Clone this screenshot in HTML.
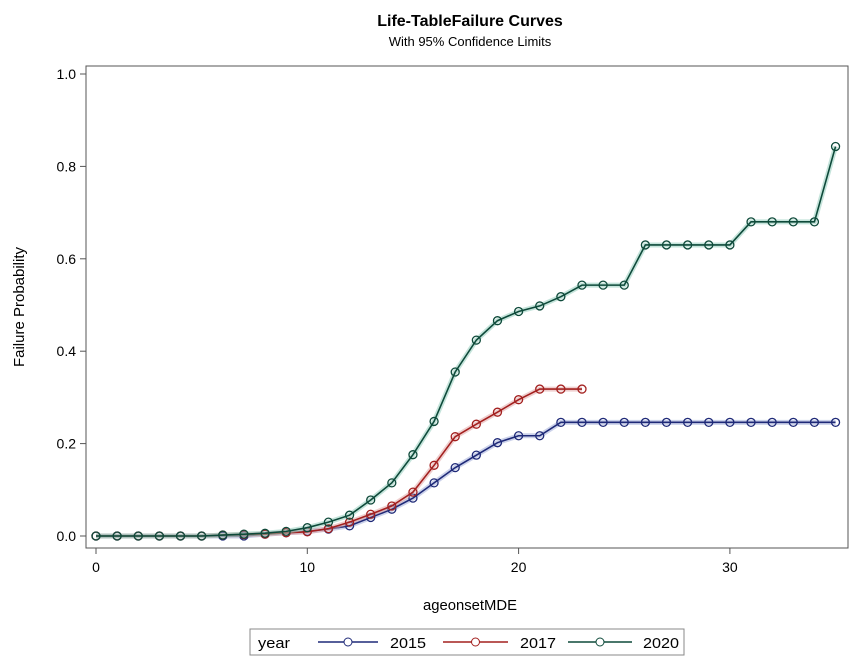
<!DOCTYPE html>
<html><head><meta charset="utf-8"><style>
body{margin:0;background:#fff;font-family:"Liberation Sans",sans-serif;}
svg text{font-family:"Liberation Sans",sans-serif;fill:#000}
</style></head><body>
<svg id="c" width="854" height="658">
<text x="470" y="26" font-size="16" font-weight="bold" text-anchor="middle">Life-TableFailure Curves</text>
<text x="470" y="46" font-size="13" text-anchor="middle">With 95% Confidence Limits</text>
<rect x="86" y="66" width="762" height="482" fill="none" stroke="#555"/>
<g id="axes"></g><g id="series"></g>
<text x="470" y="610" font-size="15" text-anchor="middle" textLength="94" lengthAdjust="spacingAndGlyphs">ageonsetMDE</text>
<text transform="translate(24,307) rotate(-90)" font-size="15" text-anchor="middle">Failure Probability</text>
<g>
<rect x="250" y="629" width="434" height="26" fill="#fff" stroke="#888"/>
<text x="258" y="648" font-size="15" textLength="32" lengthAdjust="spacingAndGlyphs">year</text>
<g id="leg"></g>
</g>
</svg>
<script>
const ages2015=[0,1,2,3,4,5,6,7,8,9,10,11,12,13,14,15,16,17,18,19,20,21,22,23,24,25,26,27,28,29,30,31,32,33,34,35];
const vals2015=[0,0,0,0,0,0,0,0,0.004,0.007,0.01,0.015,0.022,0.04,0.058,0.082,0.115,0.148,0.175,0.202,0.217,0.217,0.246,0.246,0.246,0.246,0.246,0.246,0.246,0.246,0.246,0.246,0.246,0.246,0.246,0.246];
const ages2017=[0,1,2,3,4,5,6,7,8,9,10,11,12,13,14,15,16,17,18,19,20,21,22,23];
const vals2017=[0,0,0,0,0,0,0.002,0.003,0.004,0.007,0.009,0.016,0.03,0.047,0.065,0.095,0.153,0.215,0.242,0.268,0.295,0.318,0.318,0.318];
const ages2020=[0,1,2,3,4,5,6,7,8,9,10,11,12,13,14,15,16,17,18,19,20,21,22,23,24,25,26,27,28,29,30,31,32,33,34,35];
const vals2020=[0,0,0,0,0,0,0.002,0.004,0.006,0.01,0.018,0.03,0.045,0.078,0.115,0.176,0.248,0.355,0.424,0.466,0.486,0.498,0.518,0.543,0.543,0.543,0.63,0.63,0.63,0.63,0.63,0.68,0.68,0.68,0.68,0.843];
const xTicks=[0,10,20,30];
const yTicks=[0,0.2,0.4,0.6,0.8,1.0];
const yLabels=["0.0","0.2","0.4","0.6","0.8","1.0"];
const names=["2015","2017","2020"];
const colors=["#1f2a78","#a3201f","#0e4a3a"];
const bands=["#9aa6d6","#e0a0a0","#8ccab8"];
const X=v=>96+v*21.13, Y=v=>536-v*462;
const NS="http://www.w3.org/2000/svg";
function mk(t,a,p){const e=document.createElementNS(NS,t);for(const k in a)e.setAttribute(k,a[k]);p.appendChild(e);return e;}
const ax=document.getElementById('axes');
xTicks.forEach(t=>{mk('line',{x1:X(t),x2:X(t),y1:548,y2:554,stroke:'#555'},ax);
 const tx=mk('text',{x:X(t),y:572,'font-size':14,'text-anchor':'middle'},ax);tx.textContent=t;
 
 });
yTicks.forEach((t,i)=>{mk('line',{x1:80,x2:86,y1:Y(t),y2:Y(t),stroke:'#555'},ax);
 const tx=mk('text',{x:76,y:Y(t)+5,'font-size':14,'text-anchor':'end'},ax);tx.textContent=yLabels[i];
 
 });
const sg=document.getElementById('series');
[[ages2015,vals2015],[ages2017,vals2017],[ages2020,vals2020]].forEach(([a,v],s)=>{
 const g=mk('g',{},sg);
 
 
 const pts=a.map((x,i)=>X(x)+','+Y(v[i])).join(' ');
 mk('polyline',{points:pts,fill:'none',stroke:bands[s],'stroke-width':5,opacity:0.5},g);
 mk('polyline',{points:pts,fill:'none',stroke:colors[s],'stroke-width':1.6},g);
 a.forEach((x,i)=>{const c=mk('circle',{cx:X(x),cy:Y(v[i]),r:4,fill:'none',stroke:colors[s],'stroke-width':1.3},g);
  
  });
});
const lg=document.getElementById('leg');
[[318,378,390],[443,508,520],[568,632,643]].forEach((p,s)=>{
 mk('line',{x1:p[0],x2:p[1],y1:642,y2:642,stroke:colors[s],'stroke-width':1.6},lg);
 mk('circle',{cx:(p[0]+p[1])/2,cy:642,r:4,fill:'#fff',stroke:colors[s]},lg);
 const t=mk('text',{x:p[2],y:648,'font-size':15,textLength:36,lengthAdjust:'spacingAndGlyphs'},lg);t.textContent=names[s];
 
 
});
</script>
</body></html>
